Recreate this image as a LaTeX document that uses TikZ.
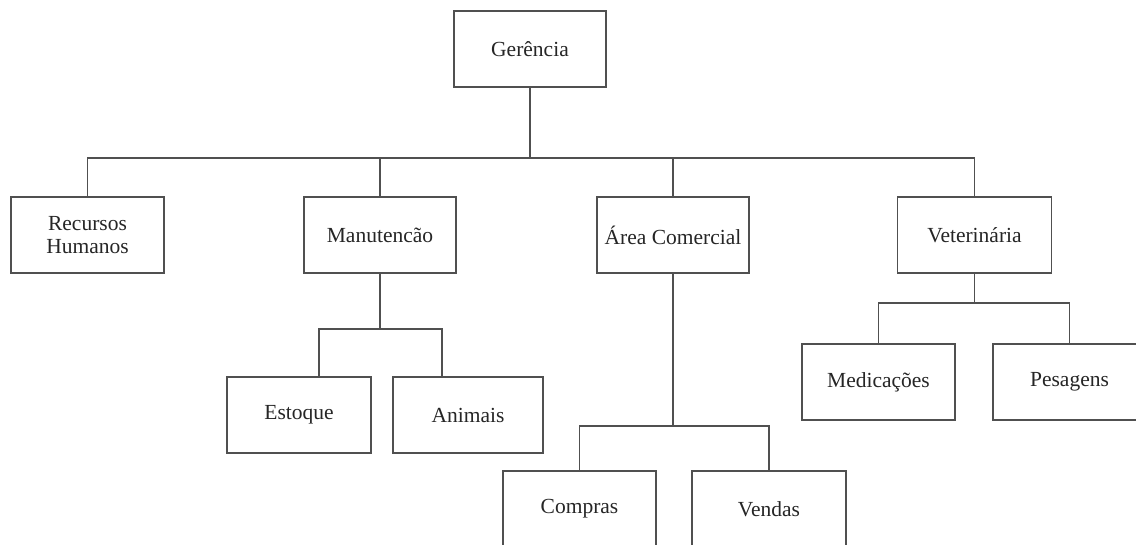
\documentclass[tikz,border=0pt]{standalone}
\usepackage{fontspec}
\setmainfont{Liberation Serif}
\definecolor{linec}{HTML}{505050}
\begin{document}
\begin{tikzpicture}[x=1pt,y=-1pt,
  box/.style={draw=linec,line width=1.6pt,fill=white,rectangle,minimum width=152pt,minimum height=76pt,inner sep=0pt,align=center,font=\fontsize{21.5}{23}\selectfont,text=black!85},
  conn/.style={draw=linec,line width=1.5pt}]
\useasboundingbox (0,0) rectangle (1136,544);
\begin{scope}
\clip (0,0) rectangle (1136,544);
% nodes
\node[box] (ger) at (530,49) {Gerência};
\node[box,minimum width=153pt] (rh) at (87.5,235) {Recursos\\Humanos};
\node[box] (man) at (380,235) {Manutencão};
\node[box] (ac) at (673,235) {Área Comercial};
\node[box,minimum width=154pt] (vet) at (974.5,235) {Veterinária};
\node[box,minimum width=144pt] (est) at (299,415) {Estoque};
\node[box,minimum width=150pt] (ani) at (468,415) {Animais};
\node[box,minimum width=153pt] (comp) at (579.5,509) {Compras};
\node[box,minimum width=154pt] (vend) at (769,509) {Vendas};
\node[box,minimum width=153pt] (med) at (878.5,382) {Medicações};
\node[box,minimum width=153pt] (pes) at (1069.5,382) {Pesagens};
% bus coordinates
\coordinate (b0) at (530,158);
\coordinate (m1) at (319,329);
\coordinate (m2) at (442,329);
\coordinate (c1) at (579.5,426);
\coordinate (c2) at (769,426);
\coordinate (v1) at (878.5,303);
\coordinate (v2) at (1069.5,303);
% connectors
\draw[conn] (ger.south) -- (b0);
\draw[conn] (rh.north) -- (rh.north |- b0) -- (vet.north |- b0) -- (vet.north);
\draw[conn] (man.north) -- (man.north |- b0);
\draw[conn] (ac.north) -- (ac.north |- b0);
\draw[conn] (man.south) -- (man.south |- m1);
\draw[conn] (est.north -| m1) -- (m1) -- (m2) -- (ani.north -| m2);
\draw[conn] (ac.south) -- (ac.south |- c1);
\draw[conn] (comp.north) -- (c1) -- (c2) -- (vend.north);
\draw[conn] (vet.south) -- (vet.south |- v1);
\draw[conn] (med.north) -- (v1) -- (v2) -- (pes.north);
\end{scope}
\end{tikzpicture}
\end{document}
